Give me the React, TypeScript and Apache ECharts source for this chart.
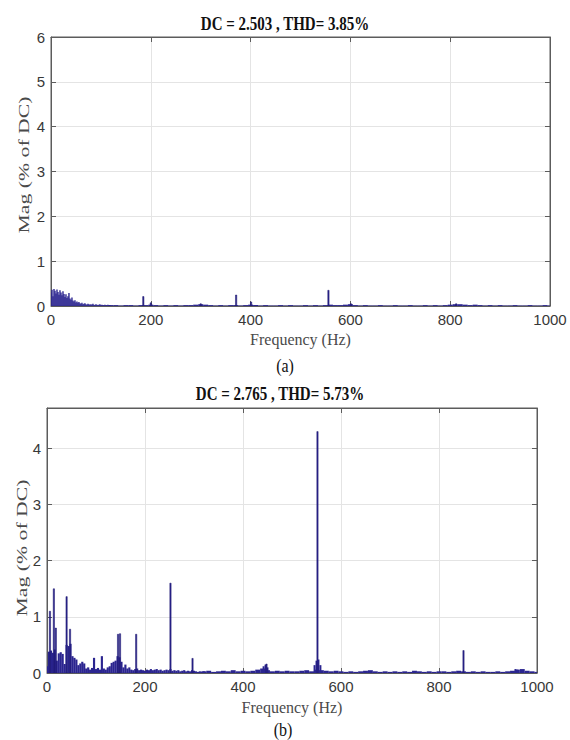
import React, { useEffect, useRef } from 'react';
import * as echarts from 'echarts';

// ---------- texts ----------
const titleA = 'DC = 2.503 , THD= 3.85%';
const titleB = 'DC = 2.765 , THD= 5.73%';
const captionA = '(a)';
const captionB = '(b)';
const xName = 'Frequency (Hz)';
const yName = 'Mag (% of DC)';

// ---------- axes ----------
const xMin = 0;
const xMax = 1000;
const xInterval = 200;
const yMaxA = 6;
const yMaxB = 4.72;
const yInterval = 1;

// ---------- chart (a) spectrum ----------
// low-frequency bins, 2 Hz apart, from 0 Hz
const lowStartA = 0;
const lowStepA = 2;
const lowMagA = [
  0.30, 0.36, 0.22, 0.38, 0.34, 0.28, 0.37, 0.31, 0.25, 0.35,
  0.30, 0.24, 0.33, 0.27, 0.20, 0.26, 0.18, 0.22, 0.29, 0.17,
  0.14, 0.19, 0.12, 0.10, 0.13, 0.08, 0.10, 0.07, 0.09, 0.06,
  0.05, 0.07, 0.04, 0.05, 0.06, 0.04, 0.03, 0.05, 0.04, 0.03,
  0.04, 0.03, 0.05, 0.03, 0.02, 0.04, 0.03, 0.02, 0.03, 0.04,
  0.02, 0.03, 0.02, 0.02, 0.03, 0.02, 0.02, 0.03, 0.02, 0.02,
];
// noise floor, 10 Hz apart, from 120 Hz
const floorStartA = 120;
const floorStepA = 10;
const floorMagA = [
  0.02, 0.02, 0.01, 0.02, 0.02, 0.01, 0.02, 0.02, 0.03, 0.02,
  0.01, 0.02, 0.01, 0.02, 0.01, 0.02, 0.02, 0.03, 0.04, 0.03,
  0.02, 0.01, 0.02, 0.01, 0.02, 0.02, 0.01, 0.02, 0.03, 0.02,
  0.01, 0.02, 0.01, 0.01, 0.02, 0.01, 0.02, 0.01, 0.01, 0.02,
  0.01, 0.02, 0.01, 0.02, 0.03, 0.02, 0.02, 0.03, 0.04, 0.02,
  0.01, 0.02, 0.01, 0.01, 0.02, 0.01, 0.01, 0.02, 0.01, 0.01,
  0.02, 0.01, 0.01, 0.02, 0.01, 0.02, 0.01, 0.02, 0.03, 0.04,
  0.04, 0.03, 0.02, 0.03, 0.02, 0.01, 0.02, 0.01, 0.02, 0.01,
  0.01, 0.02, 0.01, 0.01, 0.02, 0.01, 0.01, 0.02, 0.01,
];
// isolated harmonics [Hz, %]
const spikeFreqA = [185, 200, 300, 371, 401, 556, 601, 812];
const spikeMagA = [0.21, 0.07, 0.05, 0.245, 0.09, 0.35, 0.05, 0.05];

// ---------- chart (b) spectrum ----------
// low-frequency background, 4 Hz apart, from 0 Hz
const lowStartB = 0;
const lowStepB = 4;
const lowMagB = [
  0.12, 0.38, 0.40, 0.36, 0.42, 0.22, 0.35, 0.37, 0.34, 0.16,
  0.50, 0.48, 0.52, 0.30, 0.27, 0.24, 0.14, 0.17, 0.20, 0.17,
  0.08, 0.10, 0.06, 0.09, 0.27, 0.07, 0.09, 0.06, 0.30, 0.08,
  0.06, 0.10, 0.12, 0.18, 0.20, 0.22, 0.30, 0.28, 0.20, 0.10,
  0.15, 0.08, 0.10, 0.06, 0.05, 0.07, 0.08, 0.05, 0.06, 0.05,
  0.04, 0.06, 0.05, 0.07, 0.05, 0.06, 0.07, 0.05, 0.06, 0.04,
  0.05, 0.06, 0.05, 0.07, 0.04, 0.05, 0.04, 0.05, 0.03, 0.04,
  0.05, 0.03, 0.04, 0.03, 0.05, 0.04, 0.03, 0.02, 0.03, 0.02,
  0.03,
];
// noise floor, 10 Hz apart, from 320 Hz
const floorStartB = 320;
const floorStepB = 10;
const floorMagB = [
  0.03, 0.04, 0.02, 0.03, 0.04, 0.03, 0.05, 0.03, 0.04, 0.03,
  0.04, 0.06, 0.08, 0.05, 0.03, 0.04, 0.03, 0.04, 0.03, 0.03,
  0.04, 0.05, 0.03, 0.06, 0.05, 0.04, 0.03, 0.04, 0.03, 0.02,
  0.03, 0.02, 0.03, 0.04, 0.05, 0.03, 0.02, 0.03, 0.02, 0.03,
  0.02, 0.03, 0.02, 0.04, 0.03, 0.02, 0.03, 0.02, 0.03, 0.03,
  0.02, 0.03, 0.04, 0.03, 0.02, 0.03, 0.02, 0.03, 0.02, 0.02,
  0.03, 0.02, 0.03, 0.04, 0.06, 0.07, 0.04, 0.03, 0.02,
];
// side-band clusters [Hz, %]
const bumpFreqB = [442, 446, 450, 546, 550, 554, 558, 956, 960];
const bumpMagB = [0.12, 0.15, 0.10, 0.14, 0.22, 0.24, 0.14, 0.07, 0.06];
// isolated harmonics [Hz, %]
const spikeFreqB = [6, 14, 18, 40, 47, 145, 149, 182, 252, 297, 448, 552, 850];
const spikeMagB = [1.10, 1.50, 0.80, 1.36, 0.78, 0.69, 0.70, 0.69, 1.60, 0.26, 0.16, 4.30, 0.40];

// ---------- helpers ----------
const BAR = '#2b2590';
const EDGE = '#1c176c';
const AXIS = '#5c5c5c';
const GRIDLINE = '#e4e4e4';

const binned = (start: number, step: number, mags: number[]) =>
  mags.map((m, i) => [start + i * step, m]);
const paired = (freqs: number[], mags: number[]) => freqs.map((f, i) => [f, mags[i]]);

const barItem = (widthHz: number, edge: boolean) => (params: any, api: any) => {
  const f = api.value(0);
  const v = api.value(1);
  const p0 = api.coord([f - widthHz / 2, v]);
  const p1 = api.coord([f + widthHz / 2, 0]);
  return {
    type: 'rect',
    shape: { x: p0[0], y: p0[1], width: Math.max(p1[0] - p0[0], 0.8), height: p1[1] - p0[1] },
    style: edge
      ? { fill: BAR, stroke: EDGE, lineWidth: 0.5 }
      : { fill: BAR },
  };
};

const spectrumSeries = (idx: number, data: number[][], widthHz: number, edge: boolean) => ({
  type: 'custom',
  xAxisIndex: idx * 2,
  yAxisIndex: idx * 2,
  data,
  renderItem: barItem(widthHz, edge),
  clip: true,
  silent: true,
});

const tickLabelStyle = {
  fontFamily: 'Liberation Sans',
  fontSize: 15,
  color: '#383838',
  formatter: (v: number) => String(v),
};

const mainX = (gridIndex: number, nameGap: number) => ({
  gridIndex,
  type: 'value',
  min: xMin,
  max: xMax,
  interval: xInterval,
  position: 'bottom',
  axisLine: { show: true, onZero: false, lineStyle: { color: AXIS, width: 1 } },
  axisTick: { show: true, inside: true, length: 5, lineStyle: { color: AXIS } },
  axisLabel: { ...tickLabelStyle, margin: 6 },
  splitLine: { show: true, lineStyle: { color: GRIDLINE, width: 1 } },
  name: xName,
  nameLocation: 'middle',
  nameGap,
  nameTextStyle: { fontFamily: 'Liberation Serif, serif', fontSize: 16, color: '#4a4a4a' },
});
const topX = (gridIndex: number) => ({
  gridIndex,
  type: 'value',
  min: xMin,
  max: xMax,
  interval: xInterval,
  position: 'top',
  axisLine: { show: true, onZero: false, lineStyle: { color: AXIS, width: 1 } },
  axisTick: { show: true, inside: true, length: 5, lineStyle: { color: AXIS } },
  axisLabel: { show: false },
  splitLine: { show: false },
});
const mainY = (gridIndex: number, max: number) => ({
  gridIndex,
  type: 'value',
  min: 0,
  max,
  interval: yInterval,
  position: 'left',
  axisLine: { show: true, onZero: false, lineStyle: { color: AXIS, width: 1 } },
  axisTick: { show: true, inside: true, length: 5, lineStyle: { color: AXIS } },
  axisLabel: { ...tickLabelStyle, margin: 6, showMaxLabel: max % yInterval === 0 },
  splitLine: { show: true, lineStyle: { color: GRIDLINE, width: 1 } },
});
const rightY = (gridIndex: number, max: number) => ({
  gridIndex,
  type: 'value',
  min: 0,
  max,
  interval: yInterval,
  position: 'right',
  axisLine: { show: true, onZero: false, lineStyle: { color: AXIS, width: 1 } },
  axisTick: { show: true, inside: true, length: 5, lineStyle: { color: AXIS } },
  axisLabel: { show: false },
  splitLine: { show: false },
});

const serif = 'Liberation Serif, serif';
const textEl = (
  text: string, x: number, y: number, size: number, bold: boolean, fill: string,
  extra: Record<string, any> = {},
) => ({
  type: 'text',
  x,
  y,
  ...extra,
  style: {
    text,
    fontFamily: serif,
    fontSize: size,
    fontWeight: bold ? 'bold' : 'normal',
    fill,
    align: 'center',
    verticalAlign: 'middle',
    textAlign: 'center',
    textVerticalAlign: 'middle',
  },
});

export default function App() {
  const ref = useRef<HTMLDivElement>(null);
  useEffect(() => {
    if (!ref.current) return;
    const chart = echarts.init(ref.current, undefined, { renderer: 'svg' });
    chart.setOption({
      animation: false,
      backgroundColor: '#ffffff',
      grid: [
        { left: 51, top: 37, width: 499, height: 269, show: true, borderColor: AXIS, backgroundColor: '#fff' },
        { left: 47, top: 408, width: 490, height: 265, show: true, borderColor: AXIS, backgroundColor: '#fff' },
      ],
      xAxis: [mainX(0, 25), topX(0), mainX(1, 26), topX(1)],
      yAxis: [mainY(0, yMaxA), rightY(0, yMaxA), mainY(1, yMaxB), rightY(1, yMaxB)],
      series: [
        spectrumSeries(0, binned(floorStartA, floorStepA, floorMagA), floorStepA, false),
        spectrumSeries(0, binned(lowStartA, lowStepA, lowMagA), lowStepA * 1.4, false),
        spectrumSeries(0, paired(spikeFreqA, spikeMagA), 2.6, true),
        spectrumSeries(1, binned(floorStartB, floorStepB, floorMagB), floorStepB, false),
        spectrumSeries(1, binned(lowStartB, lowStepB, lowMagB), lowStepB * 1.1, false),
        spectrumSeries(1, paired(bumpFreqB, bumpMagB), 4, false),
        spectrumSeries(1, paired(spikeFreqB, spikeMagB), 2.6, true),
      ],
      graphic: [
        textEl(titleA, 285, 24, 15, true, '#111', { scaleY: 1.25 }),
        textEl(titleB, 280, 394, 15, true, '#111', { scaleY: 1.25 }),
        textEl(captionA, 285, 365, 16, false, '#111', { scaleY: 1.2 }),
        textEl(captionB, 283, 729, 16, false, '#111', { scaleY: 1.2 }),
        textEl(yName, 24, 165, 15, false, '#4a4a4a', { rotation: Math.PI / 2, scaleX: 1.45 }),
        textEl(yName, 22, 548, 15, false, '#4a4a4a', { rotation: Math.PI / 2, scaleX: 1.45 }),
      ],
    });
    return () => chart.dispose();
  }, []);
  return (
    <div
      ref={ref}
      style={{ position: 'absolute', left: 0, top: 0, width: 570, height: 740, background: '#fff' }}
    />
  );
}
